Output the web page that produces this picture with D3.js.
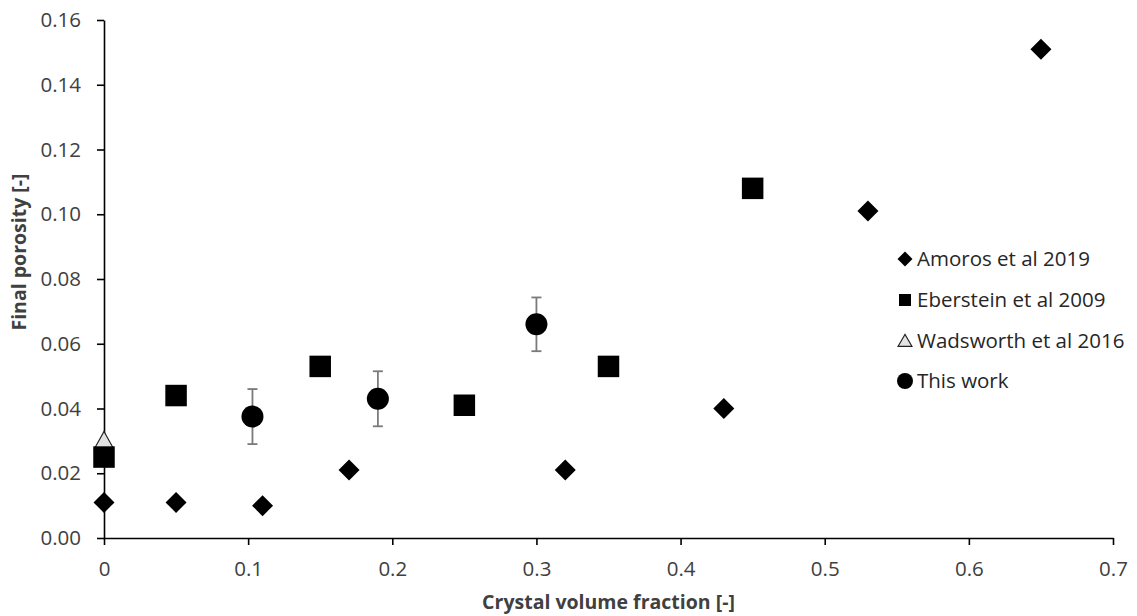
<!DOCTYPE html>
<html><head><meta charset="utf-8">
<script src="https://cdn.jsdelivr.net/npm/d3@7"></script>
<style>body{margin:0;background:#fff}</style></head><body>
<svg id="c" width="1137" height="616"></svg>
<script>
// ---- data ----
const amorosX = [0, 0.05, 0.11, 0.17, 0.32, 0.43, 0.53, 0.65];
const amorosY = [0.011, 0.011, 0.010, 0.021, 0.021, 0.040, 0.101, 0.151];
const ebersteinX = [0, 0.05, 0.15, 0.25, 0.35, 0.45];
const ebersteinY = [0.025, 0.044, 0.053, 0.041, 0.053, 0.108];
const wadsworthX = [0];
const wadsworthY = [0.030];
const thisWorkX = [0.103, 0.19, 0.30];
const thisWorkY = [0.0375, 0.043, 0.066];
const thisWorkErr = [0.0085, 0.0085, 0.0083];
const xTicks = [0, 0.1, 0.2, 0.3, 0.4, 0.5, 0.6, 0.7];
const yTicks = [0, 0.02, 0.04, 0.06, 0.08, 0.10, 0.12, 0.14, 0.16];
const legendLabels = ["Amoros et al 2019", "Eberstein et al 2009", "Wadsworth et al 2016", "This work"];
const xTitle = "Crystal volume fraction [-]";
const yTitle = "Final porosity [-]";

// ---- layout ----
const FONT = "'Open Sans', 'Noto Sans', sans-serif";
const svg = d3.select("#c");
const x = d3.scaleLinear().domain([0, 0.7]).range([104, 1113]);
const y = d3.scaleLinear().domain([0, 0.16]).range([538, 20]);

const xAxis = d3.axisBottom(x).tickValues(xTicks).tickSize(7).tickSizeOuter(0)
  .tickFormat(d => d === 0 ? "0" : d3.format(".1f")(d));
const yAxis = d3.axisLeft(y).tickValues(yTicks).tickSize(7).tickSizeOuter(0)
  .tickFormat(d3.format(".2f"));

const gx = svg.append("g").attr("transform", `translate(0,${y(0)})`).call(xAxis);
const gy = svg.append("g").attr("transform", `translate(${x(0)},0)`).call(yAxis);
[gx, gy].forEach(g => {
  g.select(".domain").attr("stroke", "#000").attr("stroke-width", 1.6);
  g.selectAll(".tick line").attr("stroke", "#000").attr("stroke-width", 1.6);
  g.selectAll(".tick text").attr("fill", "#404040").style("font-family", FONT).style("font-size", "20.5px");
});
gx.selectAll(".tick text").attr("dy", "0.71em").attr("y", 23);
gy.selectAll(".tick text").attr("x", -23);

svg.append("text").attr("x", (x(0) + x(0.7)) / 2).attr("y", 609)
  .attr("text-anchor", "middle").style("font-family", FONT).style("font-size", "19.5px")
  .style("font-weight", "bold").attr("fill", "#404040").text(xTitle);
svg.append("text").attr("transform", `translate(26,252) rotate(-90)`)
  .attr("text-anchor", "middle").style("font-family", FONT).style("font-size", "19.5px")
  .style("font-weight", "bold").attr("fill", "#404040").text(yTitle);

// ---- marker shapes ----
function diamond(r) { return `M0,${-r}L${r},0L0,${r}L${-r},0Z`; }
function square(s) { const h = s / 2; return `M${-h},${-h}H${h}V${h}H${-h}Z`; }
function triangle(w, h) { return `M0,${-h * 0.55}L${w / 2},${h * 0.45}L${-w / 2},${h * 0.45}Z`; }

const plot = svg.append("g");

// Amoros
plot.selectAll(".am").data(amorosX.map((v, i) => [v, amorosY[i]])).join("path")
  .attr("d", diamond(10.5)).attr("fill", "#000")
  .attr("transform", d => `translate(${x(d[0])},${y(d[1])})`);
// Wadsworth (behind squares)
plot.selectAll(".wa").data(wadsworthX.map((v, i) => [v, wadsworthY[i]])).join("path")
  .attr("d", triangle(19, 17)).attr("fill", "#e3e3e3").attr("stroke", "#222").attr("stroke-width", 1.2)
  .attr("transform", d => `translate(${x(d[0])},${y(d[1])})`);
// Eberstein
plot.selectAll(".eb").data(ebersteinX.map((v, i) => [v, ebersteinY[i]])).join("path")
  .attr("d", square(21.5)).attr("fill", "#000")
  .attr("transform", d => `translate(${x(d[0])},${y(d[1])})`);
// This work with error bars
const tw = thisWorkX.map((v, i) => ({ x: v, y: thisWorkY[i], e: thisWorkErr[i] }));
const eb = plot.selectAll(".err").data(tw).join("g").attr("stroke", "#7a7a7a").attr("stroke-width", 1.8);
eb.append("line").attr("x1", d => x(d.x)).attr("x2", d => x(d.x))
  .attr("y1", d => y(d.y - d.e)).attr("y2", d => y(d.y + d.e));
eb.append("line").attr("x1", d => x(d.x) - 5).attr("x2", d => x(d.x) + 5)
  .attr("y1", d => y(d.y + d.e)).attr("y2", d => y(d.y + d.e));
eb.append("line").attr("x1", d => x(d.x) - 5).attr("x2", d => x(d.x) + 5)
  .attr("y1", d => y(d.y - d.e)).attr("y2", d => y(d.y - d.e));
plot.selectAll(".tw").data(tw).join("circle")
  .attr("cx", d => x(d.x)).attr("cy", d => y(d.y)).attr("r", 11).attr("fill", "#000");

// ---- legend ----
const legY = [259, 300, 341, 381];
const leg = svg.append("g");
const lm = [
  g => g.append("path").attr("d", diamond(7.5)).attr("fill", "#000"),
  g => g.append("path").attr("d", square(12)).attr("fill", "#000"),
  g => g.append("path").attr("d", triangle(14, 12)).attr("fill", "#e3e3e3").attr("stroke", "#222").attr("stroke-width", 1.1),
  g => g.append("circle").attr("r", 8).attr("fill", "#000")
];
legendLabels.forEach((t, i) => {
  const g = leg.append("g").attr("transform", `translate(905,${legY[i]})`);
  lm[i](g);
  g.append("text").attr("x", 12).attr("dy", "0.35em").attr("fill", "#262626")
    .style("font-family", FONT).style("font-size", "20.5px").text(t);
});
</script>
</body></html>
